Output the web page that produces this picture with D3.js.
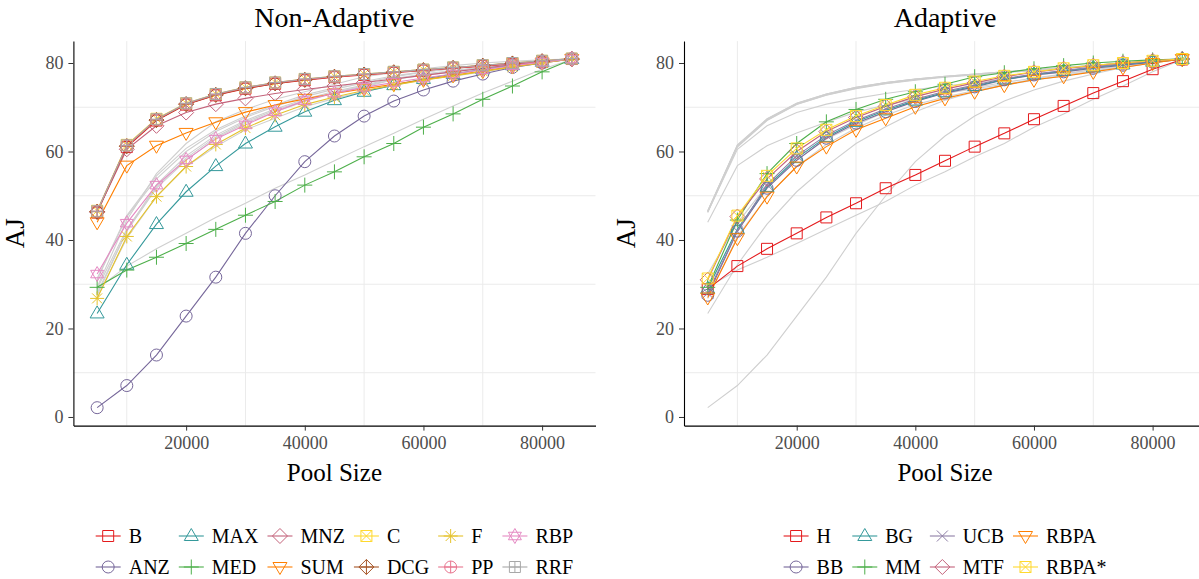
<!DOCTYPE html>
<html>
<head>
<meta charset="utf-8">
<script src="https://cdn.jsdelivr.net/npm/d3@7/dist/d3.min.js"></script>
<style>
  body { margin: 0; background: #fff; }
  text { font-family: "Liberation Serif", "Times New Roman", serif; }
</style>
</head>
<body>
<svg id="chart" width="1199" height="579"></svg>
<script>
// pool sizes on the x axis
var poolSizes = [5000, 10000, 15000, 20000, 25000, 30000, 35000, 40000, 45000,
                 50000, 55000, 60000, 65000, 70000, 75000, 80000, 85000];

// non-adaptive methods (left panel)
var nonAdaptiveNames = ["B", "ANZ", "MAX", "MED", "MNZ", "SUM", "C", "DCG", "F", "PP", "RBP", "RRF"];
var nonAdaptiveColors = ["#e41a1c", "#76679a", "#35999b", "#4daf4a", "#c4627a", "#ff7f00",
                         "#ffd92f", "#a65628", "#e5c22b", "#e8758f", "#e58ac3", "#a8a8a8"];
var nonAdaptiveShapes = ["square", "circle", "triangle", "plus", "diamond", "triangleDown",
                         "squareCross", "diamondPlus", "asterisk", "circlePlus", "star", "squarePlus"];

var ajB   = [46.2, 61.0, 67.0, 70.6, 72.7, 74.2, 75.3, 76.1, 76.8, 77.3, 77.8, 78.3, 78.8, 79.3, 79.8, 80.3, 80.9];
var ajANZ = [2.1, 7.1, 14.0, 22.8, 31.6, 41.5, 50.0, 57.7, 63.5, 68.0, 71.4, 73.9, 75.9, 77.5, 79.0, 80.0, 80.9];
var ajMAX = [23.4, 34.4, 43.6, 50.9, 56.7, 61.8, 65.6, 69.0, 71.6, 73.5, 75.0, 76.4, 77.5, 78.6, 79.5, 80.3, 80.9];
var ajMED = [29.3, 33.2, 36.1, 39.2, 42.4, 45.6, 48.7, 52.4, 55.4, 58.8, 61.8, 65.5, 68.5, 71.8, 74.8, 78.0, 80.8];
var ajMNZ = [46.3, 60.5, 65.8, 68.8, 70.7, 72.0, 73.1, 74.0, 74.8, 75.6, 76.4, 77.2, 78.0, 78.8, 79.6, 80.3, 80.9];
var ajSUM = [44.0, 56.8, 61.3, 64.2, 66.6, 68.9, 70.5, 71.9, 73.1, 74.2, 75.2, 76.2, 77.2, 78.2, 79.2, 80.1, 80.9];
var ajC   = [46.6, 61.5, 67.4, 70.9, 73.0, 74.5, 75.6, 76.4, 77.0, 77.5, 78.0, 78.5, 79.0, 79.5, 80.0, 80.5, 81.0];
var ajDCG = [46.4, 61.2, 67.1, 70.7, 72.8, 74.3, 75.4, 76.2, 76.9, 77.4, 77.9, 78.4, 78.9, 79.4, 79.9, 80.4, 80.9];
var ajF   = [26.8, 40.8, 49.8, 56.6, 61.6, 65.3, 68.2, 70.6, 72.3, 73.8, 75.0, 76.1, 77.1, 78.1, 79.1, 80.0, 80.9];
var ajPP  = [46.5, 61.3, 67.2, 70.8, 72.9, 74.4, 75.5, 76.3, 76.9, 77.4, 77.9, 78.4, 78.9, 79.4, 79.9, 80.4, 81.0];
var ajRBP = [32.3, 43.8, 52.4, 58.1, 62.8, 66.0, 69.0, 71.5, 73.2, 74.5, 75.6, 76.6, 77.5, 78.5, 79.4, 80.2, 80.9];
var ajRRF = [46.5, 61.4, 67.3, 70.9, 73.0, 74.5, 75.6, 76.4, 77.0, 77.5, 78.0, 78.5, 79.0, 79.5, 80.0, 80.5, 81.0];

// adaptive methods (right panel)
var adaptiveNames = ["H", "BB", "BG", "MM", "UCB", "MTF", "RBPA", "RBPA*"];
var adaptiveColors = ["#e41a1c", "#76679a", "#35999b", "#4daf4a", "#8e7ea6", "#c4627a", "#ff7f00", "#ffd92f"];
var adaptiveShapes = ["square", "circle", "triangle", "plus", "cross", "diamond", "triangleDown", "squareCross"];

var ajH     = [28.9, 34.1, 38.0, 41.5, 45.1, 48.3, 51.7, 54.7, 57.9, 61.1, 64.1, 67.3, 70.3, 73.2, 75.9, 78.6, 80.8];
var ajBB    = [27.5, 42.0, 51.7, 58.0, 63.0, 66.4, 69.0, 71.3, 73.2, 74.6, 76.2, 77.3, 78.0, 78.8, 79.5, 80.2, 80.8];
var ajBG    = [29.0, 42.5, 52.0, 58.5, 63.3, 66.7, 69.3, 71.5, 73.4, 74.8, 76.3, 77.4, 78.2, 79.0, 79.7, 80.3, 80.9];
var ajMM    = [29.3, 44.5, 55.0, 61.8, 66.7, 69.5, 71.8, 73.5, 75.2, 76.9, 77.8, 78.7, 79.4, 80.0, 80.4, 80.7, 80.9];
var ajUCB   = [28.0, 42.0, 52.5, 59.0, 63.7, 67.0, 69.6, 71.8, 73.6, 75.0, 76.5, 77.5, 78.3, 79.1, 79.8, 80.4, 80.9];
var ajMTF   = [31.0, 45.3, 53.8, 60.0, 64.5, 67.7, 70.2, 72.4, 74.1, 75.5, 76.9, 77.9, 78.7, 79.4, 80.0, 80.5, 80.9];
var ajRBPA  = [27.0, 40.4, 49.8, 56.6, 61.1, 64.9, 67.5, 70.1, 72.0, 73.5, 75.0, 76.2, 77.0, 78.0, 79.0, 80.0, 80.9];
var ajRBPAs = [31.3, 45.5, 54.5, 60.7, 64.9, 68.0, 70.5, 72.8, 74.4, 75.8, 77.1, 78.0, 78.8, 79.5, 80.0, 80.5, 80.9];

var xTicks = [20000, 40000, 60000, 80000];
var xMinor = [10000, 30000, 50000, 70000];
var yTicks = [0, 20, 40, 60, 80];
var yMinor = [10, 30, 50, 70];

var nonAdaptiveValues = [ajB, ajANZ, ajMAX, ajMED, ajMNZ, ajSUM, ajC, ajDCG, ajF, ajPP, ajRBP, ajRRF];
var adaptiveValues = [ajH, ajBB, ajBG, ajMM, ajUCB, ajMTF, ajRBPA, ajRBPAs];

function buildSeries(names, colors, shapes, values) {
    return names.map(function (n, i) {
        return {
            name: n, color: colors[i], shape: shapes[i],
            points: poolSizes.map(function (p, j) { return [p, values[i][j]]; })
        };
    });
}
var nonAdaptive = buildSeries(nonAdaptiveNames, nonAdaptiveColors, nonAdaptiveShapes, nonAdaptiveValues);
var adaptive = buildSeries(adaptiveNames, adaptiveColors, adaptiveShapes, adaptiveValues);

// marker outlines, roughly like R pch 0..12
function shapePath(shape) {
    var sq = "M-5.5,-5.5H5.5V5.5H-5.5Z";
    var ci = "M6,0A6,6 0 1 1 -6,0A6,6 0 1 1 6,0Z";
    var tu = "M0,-7.5L7,4.5L-7,4.5Z";
    var td = "M0,7.5L7,-4.5L-7,-4.5Z";
    var di = "M0,-7.5L7.5,0L0,7.5L-7.5,0Z";
    switch (shape) {
        case "square": return sq;
        case "circle": return ci;
        case "triangle": return tu;
        case "triangleDown": return td;
        case "plus": return "M-7.5,0H7.5M0,-7.5V7.5";
        case "cross": return "M-5.5,-5.5L5.5,5.5M-5.5,5.5L5.5,-5.5";
        case "diamond": return di;
        case "squareCross": return sq + "M-5.5,-5.5L5.5,5.5M-5.5,5.5L5.5,-5.5";
        case "asterisk": return "M-7,0H7M0,-7V7M-5,-5L5,5M-5,5L5,-5";
        case "diamondPlus": return di + "M-7.5,0H7.5M0,-7.5V7.5";
        case "circlePlus": return ci + "M-6,0H6M0,-6V6";
        case "star": return "M0,-7.5L6.5,3.75L-6.5,3.75Z" + "M0,7.5L6.5,-3.75L-6.5,-3.75Z";
        case "squarePlus": return sq + "M-5.5,0H5.5M0,-5.5V5.5";
    }
    return ci;
}

var svg = d3.select("#chart");
svg.append("rect").attr("width", 1199).attr("height", 579).attr("fill", "#fff");

var yRange = [425.6, 41.1];
var panels = [
    { title: "Non-Adaptive", left: 73.4, right: 595.5, series: nonAdaptive, background: adaptive },
    { title: "Adaptive", left: 684, right: 1206, series: adaptive, background: nonAdaptive }
];

panels.forEach(function (p, pi) {
    var x = d3.scaleLinear().domain([1000, 89000]).range([p.left, p.right]);
    var y = d3.scaleLinear().domain([-1.95, 84.95]).range(yRange);
    var g = svg.append("g");

    // minor grid only
    g.selectAll(".vgrid").data(xMinor).enter().append("line")
        .attr("x1", function (d) { return x(d); }).attr("x2", function (d) { return x(d); })
        .attr("y1", yRange[0]).attr("y2", yRange[1])
        .attr("stroke", "#ebebeb").attr("stroke-width", 1);
    g.selectAll(".hgrid").data(yMinor).enter().append("line")
        .attr("x1", p.left).attr("x2", p.right)
        .attr("y1", function (d) { return y(d); }).attr("y2", function (d) { return y(d); })
        .attr("stroke", "#ebebeb").attr("stroke-width", 1);

    var line = d3.line().x(function (d) { return x(d[0]); }).y(function (d) { return y(d[1]); });

    // the other panel's methods as grey context
    g.selectAll(".bg").data(p.background).enter().append("path")
        .attr("d", function (d) { return line(d.points); })
        .attr("fill", "none").attr("stroke", "#cfcfcf").attr("stroke-width", 1.1);

    g.selectAll(".series").data(p.series).enter().append("path")
        .attr("d", function (d) { return line(d.points); })
        .attr("fill", "none").attr("stroke", function (d) { return d.color; }).attr("stroke-width", 1.1);

    p.series.forEach(function (s) {
        g.selectAll(null).data(s.points).enter().append("path")
            .attr("transform", function (d) { return "translate(" + x(d[0]) + "," + y(d[1]) + ")"; })
            .attr("d", shapePath(s.shape))
            .attr("fill", "none").attr("stroke", s.color).attr("stroke-width", 1);
    });

    // axes
    var ax = g.append("g").attr("transform", "translate(0," + yRange[0] + ")")
        .call(d3.axisBottom(x).tickValues(xTicks).tickFormat(d3.format("d")).tickSize(5).tickSizeOuter(0).tickPadding(6));
    var ay = g.append("g").attr("transform", "translate(" + p.left + ",0)")
        .call(d3.axisLeft(y).tickValues(yTicks).tickSize(5).tickSizeOuter(0).tickPadding(5));
    [ax, ay].forEach(function (a) {
        a.attr("font-family", null).attr("font-size", null);
        a.select(".domain").attr("stroke", "#000").attr("stroke-width", 1.1);
        a.selectAll(".tick line").attr("stroke", "#333");
        a.selectAll(".tick text").attr("fill", "#4d4d4d").style("font-size", "18px")
            .style("font-family", "Liberation Serif");
    });

    var cx = (p.left + p.right) / 2;
    g.append("text").attr("x", cx).attr("y", 27).attr("text-anchor", "middle")
        .style("font-size", "28px").text(p.title);
    g.append("text").attr("x", cx).attr("y", 481).attr("text-anchor", "middle")
        .style("font-size", "25px").text("Pool Size");
    g.append("text").attr("transform", "translate(" + (p.left - 49) + "," + ((yRange[0] + yRange[1]) / 2) + ") rotate(-90)")
        .attr("text-anchor", "middle").style("font-size", "27px").text("AJ");

    // legend: two rows, filled column by column
    var leg = g.append("g");
    var rowsY = [536, 567];
    var cols = [];
    p.series.forEach(function (s, i) {
        var c = Math.floor(i / 2);
        if (!cols[c]) cols[c] = [];
        cols[c].push(s);
    });
    var colX = [], cursor = 0;
    var colGroups = cols.map(function (items) {
        var cg = leg.append("g");
        var maxW = 0;
        items.forEach(function (s, r) {
            var ry = rowsY[r];
            cg.append("line").attr("x1", 0).attr("x2", 25).attr("y1", ry).attr("y2", ry)
                .attr("stroke", s.color).attr("stroke-width", 1.1);
            cg.append("path").attr("transform", "translate(12.5," + ry + ")")
                .attr("d", shapePath(s.shape)).attr("fill", "none").attr("stroke", s.color);
            var t = cg.append("text").attr("x", 33).attr("y", ry + 6.5)
                .style("font-size", "20px").text(s.name);
            maxW = Math.max(maxW, t.node().getComputedTextLength());
        });
        return { g: cg, w: 33 + maxW };
    });
    colGroups.forEach(function (c, i) {
        colX.push(cursor);
        cursor += c.w + (i < colGroups.length - 1 ? 9 : 0);
    });
    var start = cx - cursor / 2;
    colGroups.forEach(function (c, i) {
        c.g.attr("transform", "translate(" + (start + colX[i]) + ",0)");
    });
});
</script>
</body>
</html>
